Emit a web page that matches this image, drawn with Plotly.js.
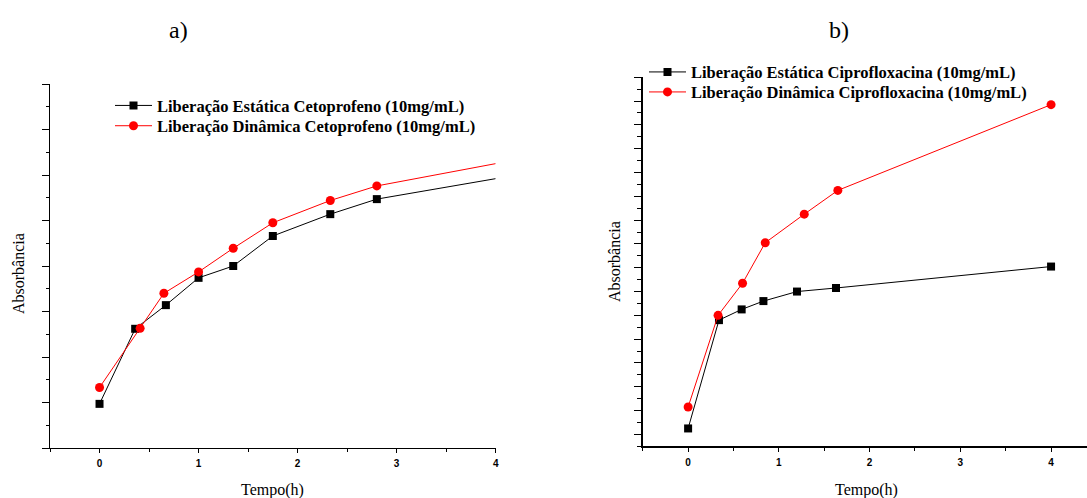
<!DOCTYPE html>
<html>
<head>
<meta charset="utf-8">
<script src="https://cdn.plot.ly/plotly-3.0.1.min.js"></script>
<style>
  html, body { margin: 0; padding: 0; background: #fff; }
  #chart { width: 1087px; height: 498px; }
</style>
</head>
<body>
<div id="chart"></div>
<script>
// a) Cetoprofeno release (10 mg/mL)
const tempoEstCeto = [0, 0.36, 0.67, 1, 1.35, 1.75, 2.33, 2.8, 4];
const absEstCeto   = [0.097, 0.262, 0.314, 0.374, 0.400, 0.466, 0.514, 0.547, 0.592];
const tempoDinCeto = [0, 0.41, 0.65, 1, 1.35, 1.75, 2.33, 2.8, 4];
const absDinCeto   = [0.133, 0.263, 0.340, 0.387, 0.439, 0.495, 0.544, 0.576, 0.625];

// b) Ciprofloxacina release (10 mg/mL)
const tempoEstCipro = [0, 0.34, 0.59, 0.83, 1.2, 1.63, 4];
const absEstCipro   = [0.005, 0.096, 0.105, 0.112, 0.120, 0.123, 0.141];
const tempoDinCipro = [0, 0.33, 0.6, 0.85, 1.28, 1.65, 4];
const absDinCipro   = [0.023, 0.100, 0.127, 0.161, 0.185, 0.205, 0.277];

const xTickVals = [0, 1, 2, 3, 4];
const xTickText = ['0', '1', '2', '3', '4'];

const nomesCeto = ['Liberação Estática Cetoprofeno (10mg/mL)', 'Liberação Dinâmica Cetoprofeno (10mg/mL)'];
const nomesCipro = ['Liberação Estática Ciprofloxacina (10mg/mL)', 'Liberação Dinâmica Ciprofloxacina (10mg/mL)'];

const BLACK = '#000000';
const RED = '#ff0000';

const SQUARE = { symbol: 'square', color: BLACK, size: 8 };
const CIRCLE = { symbol: 'circle', color: RED, size: 9 };

// Cetoprofeno: the last reading sits on the right edge of the axis and carries no marker,
// so the final segment is drawn as a separate line-only piece.
function seriesWithBareEnd(x, y, name, color, marker, legendId) {
  const n = x.length;
  return [
    {
      x: x.slice(0, n - 1), y: y.slice(0, n - 1), name: name, type: 'scatter', mode: 'lines+markers',
      xaxis: 'x', yaxis: 'y', legend: legendId, cliponaxis: false,
      line: { color: color, width: 1 }, marker: marker
    },
    {
      x: x.slice(n - 2), y: y.slice(n - 2), type: 'scatter', mode: 'lines', showlegend: false,
      xaxis: 'x', yaxis: 'y', cliponaxis: false,
      line: { color: color, width: 1 }
    }
  ];
}

const traces = [
  ...seriesWithBareEnd(tempoEstCeto, absEstCeto, nomesCeto[0], BLACK, SQUARE, 'legend'),
  ...seriesWithBareEnd(tempoDinCeto, absDinCeto, nomesCeto[1], RED, CIRCLE, 'legend2'),
  {
    x: tempoEstCipro, y: absEstCipro, name: nomesCipro[0], type: 'scatter', mode: 'lines+markers',
    xaxis: 'x2', yaxis: 'y2', legend: 'legend3', cliponaxis: false,
    line: { color: BLACK, width: 1 }, marker: SQUARE
  },
  {
    x: tempoDinCipro, y: absDinCipro, name: nomesCipro[1], type: 'scatter', mode: 'lines+markers',
    xaxis: 'x2', yaxis: 'y2', legend: 'legend4', cliponaxis: false,
    line: { color: RED, width: 1 }, marker: CIRCLE
  }
];

const tickFont = { family: 'Liberation Sans, Arial, sans-serif', size: 10, color: BLACK, weight: 'bold' };
const legendFont = { family: 'Liberation Serif, Times New Roman, serif', size: 16.5, color: BLACK, weight: 'bold' };

function xAxis(domain, range, anchor) {
  return {
    domain: domain, range: range, anchor: anchor,
    showgrid: false, zeroline: false,
    showline: true, linecolor: BLACK, linewidth: 1.3,
    ticks: 'outside', ticklen: 4, tickwidth: 1, tickcolor: BLACK,
    tickmode: 'array', tickvals: xTickVals, ticktext: xTickText,
    tickfont: tickFont, ticklabelstandoff: 2,
    minor: { ticks: 'outside', ticklen: 3, tickwidth: 1, tickcolor: BLACK, dtick: 0.5, tick0: -0.5, showgrid: false }
  };
}

function yAxis(domain, range, dtick, anchor, majorLen, minorLen) {
  return {
    domain: domain, range: range, anchor: anchor,
    showgrid: false, zeroline: false,
    showline: true, linecolor: BLACK, linewidth: 1.3,
    ticks: 'outside', ticklen: majorLen, tickwidth: 1, tickcolor: BLACK,
    dtick: dtick, tick0: 0, showticklabels: false,
    minor: { ticks: 'outside', ticklen: minorLen, tickwidth: 1, tickcolor: BLACK, dtick: dtick / 2, tick0: 0, showgrid: false }
  };
}

function legendAt(px, py) {
  return {
    x: px / 1087, y: 1 - py / 498, xanchor: 'left', yanchor: 'middle',
    bgcolor: 'rgba(0,0,0,0)', borderwidth: 0, font: legendFont, itemwidth: 37
  };
}

function label(text, px, py, size, angle) {
  return {
    text: text, xref: 'paper', yref: 'paper', x: px / 1087, y: 1 - py / 498,
    xanchor: 'center', yanchor: 'middle', showarrow: false, textangle: angle || 0,
    font: { family: 'Liberation Serif, Times New Roman, serif', size: size, color: BLACK }
  };
}

const layout = {
  width: 1087, height: 498,
  margin: { l: 0, r: 0, t: 0, b: 0 },
  paper_bgcolor: '#ffffff', plot_bgcolor: '#ffffff',
  showlegend: true,
  xaxis: xAxis([0.0460, 0.4560], [-0.5, 4], 'y'),
  yaxis: yAxis([0.1004, 0.8313], [0, 0.8], 0.1, 'x', 7, 3),
  xaxis2: xAxis([0.5913, 1.0], [-0.5, 4.396], 'y2'),
  yaxis2: yAxis([0.1038, 0.8448], [-0.01, 0.30], 0.02, 'x2', 7, 4),
  legend: legendAt(110, 105.7),
  legend2: legendAt(110, 126),
  legend3: legendAt(644, 72.2),
  legend4: legendAt(644, 92.2),
  annotations: [
    label('a)', 178, 30, 24),
    label('b)', 839, 30, 24),
    label('Tempo(h)', 272, 490, 16),
    label('Tempo(h)', 866, 490, 16),
    label('Absorbância', 18, 274, 16, -90),
    label('Absorbância', 614, 262, 16, -90)
  ]
};

Plotly.newPlot('chart', traces, layout, { staticPlot: true, displayModeBar: false });
</script>
</body>
</html>
